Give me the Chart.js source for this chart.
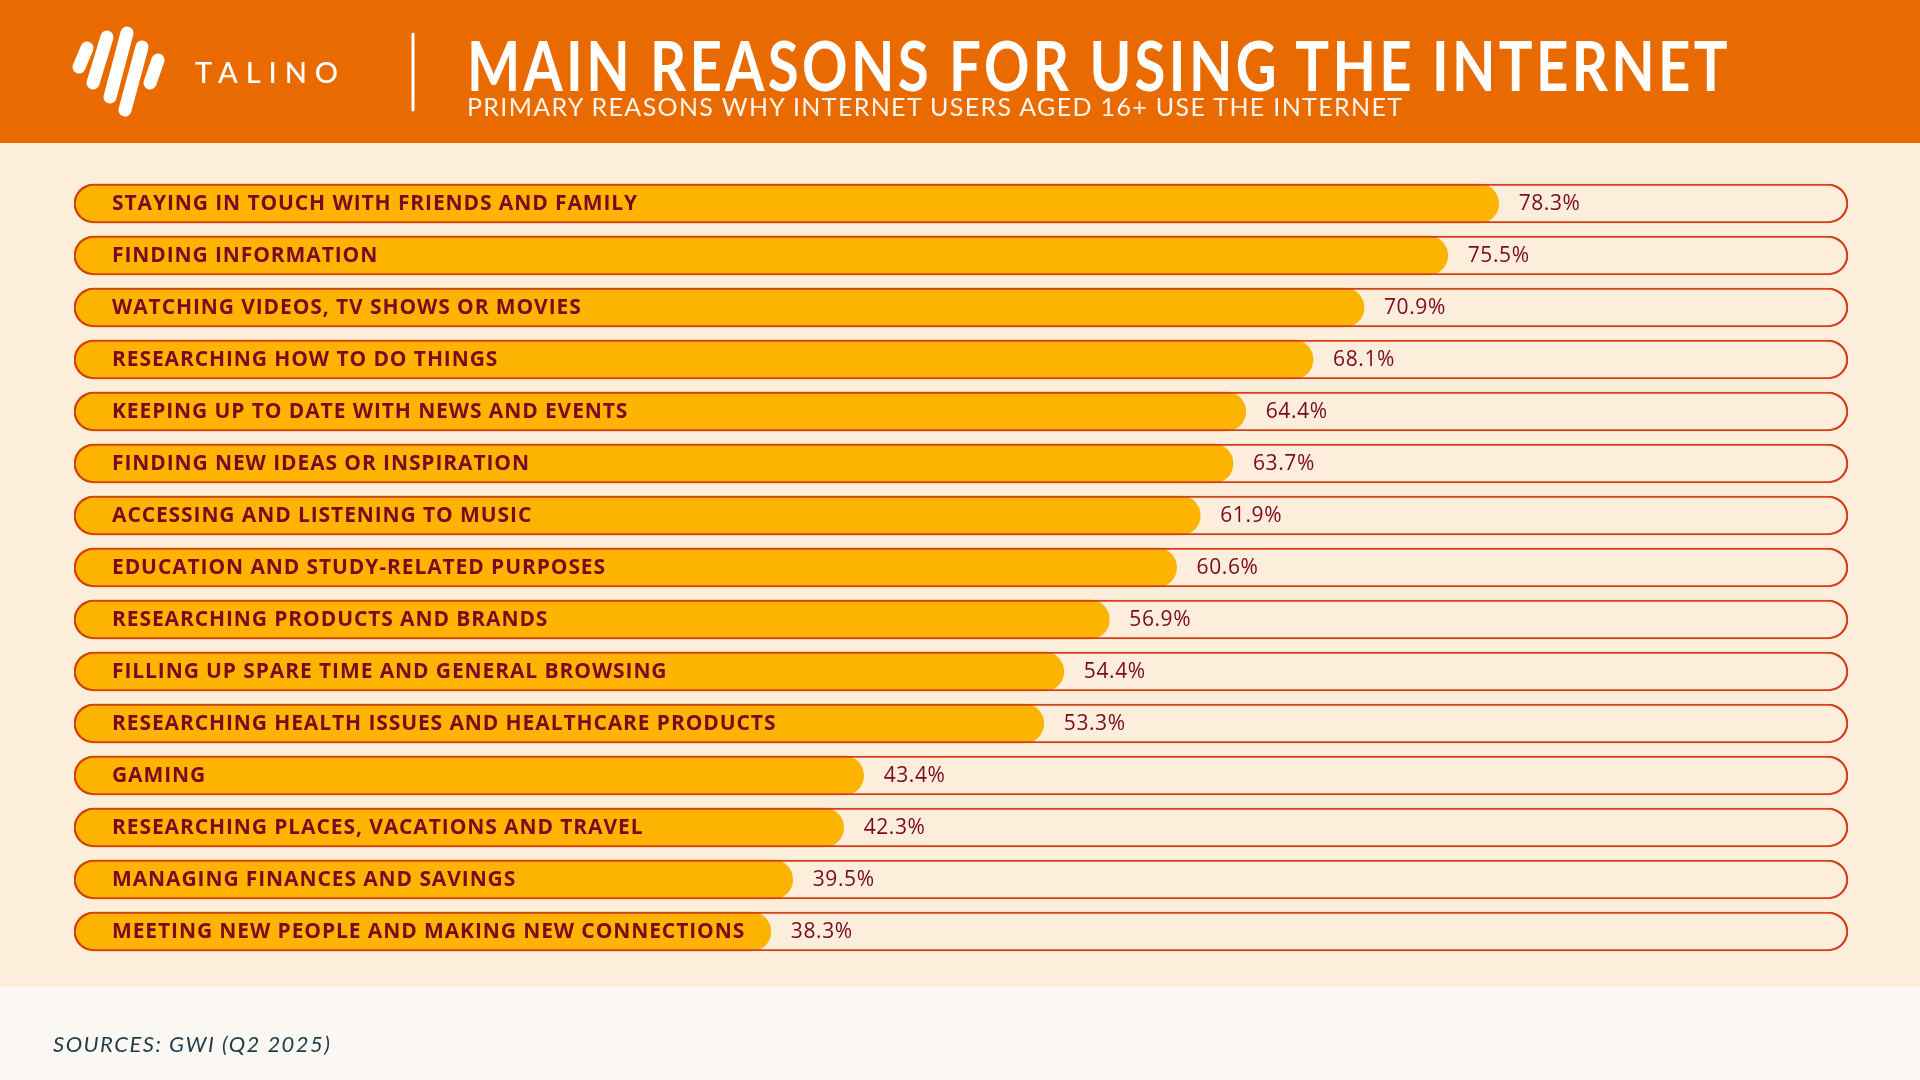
<!DOCTYPE html>
<html>
<head>
<meta charset="utf-8">
<script src="https://cdn.jsdelivr.net/npm/chart.js@4.4.1/dist/chart.umd.min.js"></script>
<style>
  html, body { margin: 0; padding: 0; }
  body { width: 1920px; height: 1080px; position: relative; overflow: hidden; background: #fbf8f4; font-family: "Open Sans", sans-serif; }
  #header { position: absolute; left: 0; top: 0; width: 1920px; height: 143px; background: #e96b00; }
  #panel { position: absolute; left: 0; top: 143px; width: 1920px; height: 844px; background: #fdeedc; }
  #chart { position: absolute; left: 0; top: 143px; }
  #overlay { position: absolute; left: 0; top: 0; }
</style>
</head>
<body>
<div id="header"></div>
<div id="panel"></div>
<canvas id="chart" width="1920" height="844"></canvas>
<svg id="overlay" width="1920" height="1080">
  <g stroke="#ffffff" stroke-linecap="round" stroke-width="13" fill="none">
    <line x1="87" y1="48" x2="79" y2="67"/>
    <line x1="107" y1="37" x2="93" y2="83"/>
    <line x1="127" y1="33" x2="110" y2="97"/>
    <line x1="142" y1="47" x2="125" y2="110"/>
    <line x1="158" y1="60" x2="150" y2="83"/>
  </g>
  <text x="195" y="83" font-family="Lato" font-weight="500" font-size="29" fill="#ffffff" textLength="143" lengthAdjust="spacing">TALINO</text>
  <line x1="413" y1="34" x2="413" y2="110" stroke="#ffffff" stroke-width="3" stroke-linecap="round"/>
  <text x="467" y="91" font-family="Lato" font-weight="700" font-size="68" letter-spacing="4" fill="#ffffff" textLength="1264" lengthAdjust="spacingAndGlyphs">MAIN REASONS FOR USING THE INTERNET</text>
  <text x="467" y="116" font-family="Lato" font-weight="400" font-size="25" fill="#fff4ea" textLength="935" lengthAdjust="spacing">PRIMARY REASONS WHY INTERNET USERS AGED 16+ USE THE INTERNET</text>
  <text x="53" y="1052" font-family="Lato" font-style="italic" font-size="22" fill="#1e3b4d" textLength="277" lengthAdjust="spacing">SOURCES: GWI (Q2 2025)</text>
</svg>
<script>
// reasons, top to bottom
var reasons = [
  'STAYING IN TOUCH WITH FRIENDS AND FAMILY',
  'FINDING INFORMATION',
  'WATCHING VIDEOS, TV SHOWS OR MOVIES',
  'RESEARCHING HOW TO DO THINGS',
  'KEEPING UP TO DATE WITH NEWS AND EVENTS',
  'FINDING NEW IDEAS OR INSPIRATION',
  'ACCESSING AND LISTENING TO MUSIC',
  'EDUCATION AND STUDY-RELATED PURPOSES',
  'RESEARCHING PRODUCTS AND BRANDS',
  'FILLING UP SPARE TIME AND GENERAL BROWSING',
  'RESEARCHING HEALTH ISSUES AND HEALTHCARE PRODUCTS',
  'GAMING',
  'RESEARCHING PLACES, VACATIONS AND TRAVEL',
  'MANAGING FINANCES AND SAVINGS',
  'MEETING NEW PEOPLE AND MAKING NEW CONNECTIONS'
];
var shares = [78.3, 75.5, 70.9, 68.1, 64.4, 63.7, 61.9, 60.6, 56.9, 54.4, 53.3, 43.4, 42.3, 39.5, 38.3];

var AXIS_MAX = 97.5;
// the outlined track behind each bar runs to the end of the axis
var track = reasons.map(function() { return AXIS_MAX; });

var TEXT = '#7a0a1f';

var barLabels = {
  id: 'barLabels',
  afterDatasetsDraw: function(chart) {
    var ctx = chart.ctx;
    var meta = chart.getDatasetMeta(1);
    var left = chart.chartArea.left;
    ctx.save();
    ctx.fillStyle = TEXT;
    ctx.textBaseline = 'middle';
    ctx.textAlign = 'left';
    meta.data.forEach(function(bar, i) {
      ctx.font = '700 21px "Open Sans"';
      ctx.letterSpacing = '0.9px';
      ctx.fillText(reasons[i], left + 38, bar.y + 1);
      ctx.font = '500 21px "Open Sans"';
      ctx.letterSpacing = '0.6px';
      ctx.fillText(shares[i].toFixed(1) + '%', bar.x + 20, bar.y + 1);
    });
    ctx.restore();
  }
};

new Chart(document.getElementById('chart'), {
  type: 'bar',
  data: {
    labels: reasons,
    datasets: [
      { data: track, backgroundColor: 'rgba(0,0,0,0)', borderColor: '#d2401c', borderWidth: 1.5,
        borderRadius: 20, borderSkipped: false, barThickness: 39, grouped: false },
      { data: shares, backgroundColor: '#fdb400', borderWidth: 0,
        borderRadius: 20, borderSkipped: false, barThickness: 39, grouped: false }
    ]
  },
  options: {
    indexAxis: 'y',
    responsive: false,
    animation: false,
    devicePixelRatio: 1,
    layout: { padding: { left: 74, right: 72, top: 34.5, bottom: 29.5 } },
    plugins: { legend: { display: false }, tooltip: { enabled: false } },
    scales: {
      x: { display: false, min: 0, max: AXIS_MAX },
      y: { display: false }
    }
  },
  plugins: [barLabels]
});
</script>
</body>
</html>
